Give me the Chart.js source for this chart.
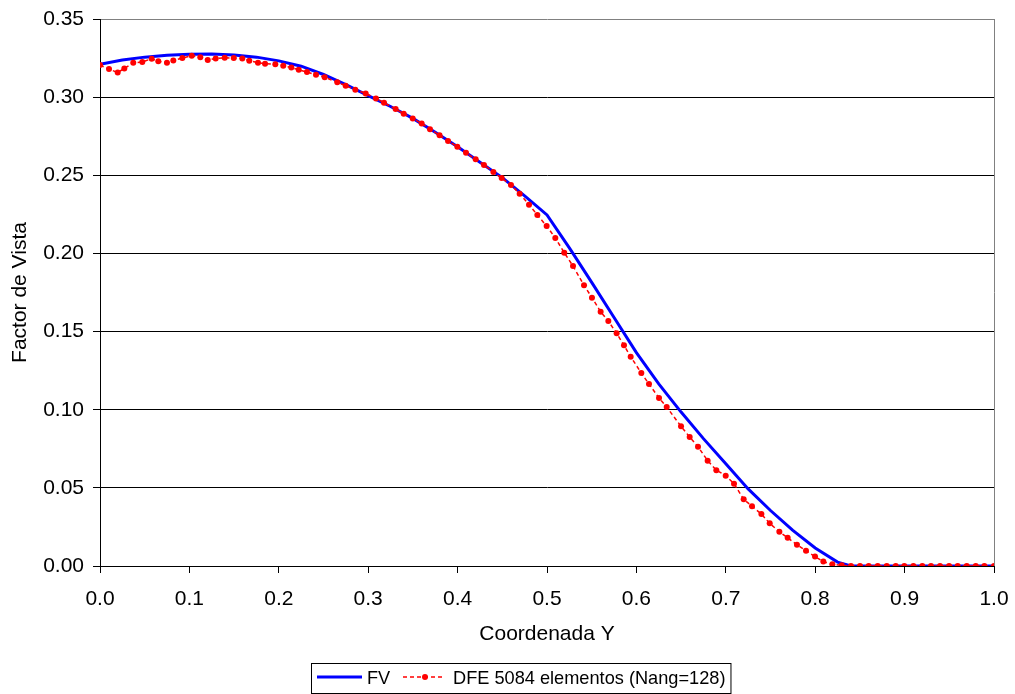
<!DOCTYPE html>
<html>
<head>
<meta charset="utf-8">
<script src="https://cdn.jsdelivr.net/npm/chart.js@4.4.1/dist/chart.umd.min.js"></script>
<style>
  html, body { margin: 0; padding: 0; background: #fff; }
  #wrap { width: 1015px; height: 694px; position: relative; }
</style>
</head>
<body>
<div id="wrap"><canvas id="fvChart"></canvas></div>
<script>
// Coordenada Y / Factor de Vista - analytic curve (FV)
const fvX = [0, 0.025, 0.05, 0.075, 0.1, 0.125, 0.15, 0.175, 0.2, 0.225, 0.25, 0.275, 0.3, 0.325, 0.35, 0.375, 0.4, 0.425, 0.45, 0.475, 0.5,
  0.525, 0.55, 0.575, 0.6, 0.625, 0.65, 0.675, 0.7, 0.725, 0.75, 0.775, 0.8, 0.825, 0.84, 0.9, 1.0];
const fvY = [0.3210, 0.3237, 0.3256, 0.3268, 0.3275, 0.3276, 0.3270, 0.3256, 0.3232, 0.3198, 0.3145, 0.3080, 0.3010, 0.2940, 0.2864, 0.2775, 0.2683, 0.2584, 0.2485, 0.2368, 0.2246,
  0.2035, 0.1815, 0.1590, 0.1365, 0.1165, 0.0985, 0.0815, 0.0655, 0.0493, 0.0355, 0.0228, 0.0115, 0.0025, 0, 0, 0];

// DFE 5084 elementos (Nang=128)
const dfeX = [0, 0.0101, 0.0198, 0.0272, 0.0372, 0.0473, 0.0578, 0.0652, 0.0749, 0.0820,
  0.0921, 0.1026, 0.1122, 0.1205, 0.1294, 0.1395, 0.1496, 0.1592, 0.1670, 0.1767,
  0.1846, 0.1961, 0.2050, 0.2140, 0.2223, 0.2315, 0.2416, 0.2513, 0.2654, 0.2748,
  0.2856, 0.2972, 0.3087, 0.3177, 0.3307, 0.3397, 0.3498, 0.3598, 0.3691, 0.3798,
  0.3893, 0.3997, 0.4094, 0.4202, 0.4295, 0.4400, 0.4493, 0.4597, 0.4694, 0.4799,
  0.4892, 0.4996, 0.5093, 0.5193, 0.5291, 0.5414, 0.5503, 0.5600, 0.5686, 0.5779,
  0.5861, 0.5936, 0.6055, 0.6141, 0.6253, 0.6339, 0.6499, 0.6596, 0.6689, 0.6797,
  0.6894, 0.6999, 0.7092, 0.7200, 0.7293, 0.7398, 0.7491, 0.7599, 0.7692, 0.7796,
  0.7897, 0.7998, 0.8091, 0.8192, 0.8296, 0.8400, 0.8501, 0.8598, 0.8699, 0.8800,
  0.8901, 0.8997, 0.9098, 0.9198, 0.9295, 0.9396, 0.9497, 0.9594, 0.9695, 0.9796,
  0.9892, 1.0];
const dfeY = [0.3205, 0.3180, 0.3157, 0.3184, 0.3220, 0.3225, 0.3246, 0.3229, 0.3220, 0.3235,
  0.3250, 0.3265, 0.3255, 0.3237, 0.3248, 0.3252, 0.3250, 0.3248, 0.3233, 0.3220,
  0.3214, 0.3210, 0.3201, 0.3190, 0.3175, 0.3161, 0.3143, 0.3127, 0.3095, 0.3073,
  0.3048, 0.3024, 0.2992, 0.2964, 0.2924, 0.2894, 0.2864, 0.2831, 0.2795, 0.2756,
  0.2719, 0.2683, 0.2644, 0.2602, 0.2566, 0.2521, 0.2482, 0.2438, 0.2382, 0.2312,
  0.2246, 0.2175, 0.2099, 0.2005, 0.1919, 0.1796, 0.1717, 0.1627, 0.1567, 0.1489,
  0.1412, 0.1339, 0.1235, 0.1164, 0.1075, 0.1017, 0.0894, 0.0825, 0.0763, 0.0674,
  0.0613, 0.0578, 0.0527, 0.0427, 0.0382, 0.0333, 0.0273, 0.0219, 0.0181, 0.0136,
  0.0098, 0.0060, 0.0028, 0.0011, 0.0004, 0, 0, 0, 0, 0,
  0, 0, 0, 0, 0, 0, 0, 0, 0, 0,
  0, 0];

const seriesNames = ['FV', 'DFE 5084 elementos (Nang=128)'];
const xTitle = 'Coordenada Y';
const yTitle = 'Factor de Vista';

const FONT = '"Liberation Sans", Arial, Helvetica, sans-serif';
Chart.defaults.font.family = FONT;
Chart.defaults.color = '#000';

const toPoints = (xs, ys) => xs.map((x, i) => ({ x: x, y: ys[i] }));

// grey frame on the right side of the plot area
const plotFrame = {
  id: 'plotFrame',
  beforeDatasetsDraw(chart) {
    const { ctx, chartArea } = chart;
    ctx.save();
    ctx.strokeStyle = '#808080';
    ctx.lineWidth = 1;
    ctx.beginPath();
    ctx.moveTo(Math.round(chartArea.right) + 0.5, chartArea.top);
    ctx.lineTo(Math.round(chartArea.right) + 0.5, chartArea.bottom);
    ctx.stroke();
    ctx.restore();
  }
};

// boxed legend under the x axis title
const legendBox = {
  id: 'legendBox',
  afterDraw(chart) {
    const ctx = chart.ctx;
    const top = 663, h = 30, left = 311;
    const cy = top + 15;
    ctx.save();
    ctx.font = '18.2px ' + FONT;
    ctx.textBaseline = 'middle';
    ctx.fillStyle = '#000';

    // FV sample
    ctx.strokeStyle = '#0000ff';
    ctx.lineWidth = 3;
    ctx.beginPath();
    ctx.moveTo(left + 6, cy - 1);
    ctx.lineTo(left + 51, cy - 1);
    ctx.stroke();
    ctx.fillText(seriesNames[0], left + 56, cy + 1);

    // DFE sample
    const sx = left + 92;
    ctx.strokeStyle = '#ff0000';
    ctx.lineWidth = 1.5;
    ctx.setLineDash([4, 3]);
    ctx.beginPath();
    ctx.moveTo(sx, cy - 1);
    ctx.lineTo(sx + 39, cy - 1);
    ctx.stroke();
    ctx.setLineDash([]);
    ctx.fillStyle = '#ff0000';
    ctx.beginPath();
    ctx.arc(sx + 22, cy - 1, 3, 0, Math.PI * 2);
    ctx.fill();
    ctx.fillStyle = '#000';
    const tx = sx + 50;
    ctx.fillText(seriesNames[1], tx, cy + 1);
    const w = tx + ctx.measureText(seriesNames[1]).width + 5 - left;

    ctx.strokeStyle = '#000';
    ctx.lineWidth = 1;
    ctx.strokeRect(left + 0.5, top + 0.5, w, h);
    ctx.restore();
  }
};

const ctx = document.getElementById('fvChart').getContext('2d');
const fvChart = new Chart(ctx, {
  type: 'scatter',
  data: {
    datasets: [
      {
        label: seriesNames[0],
        data: toPoints(fvX, fvY),
        showLine: true,
        borderColor: '#0000ff',
        borderWidth: 3,
        pointRadius: 0,
        tension: 0,
        order: 2
      },
      {
        label: seriesNames[1],
        data: toPoints(dfeX, dfeY),
        showLine: true,
        borderColor: '#ff0000',
        borderWidth: 1.5,
        borderDash: [4, 3],
        pointRadius: 3,
        pointBorderWidth: 0,
        pointBackgroundColor: '#ff0000',
        tension: 0,
        order: 1
      }
    ]
  },
  options: {
    responsive: true,
    maintainAspectRatio: false,
    animation: false,
    layout: { padding: { left: 0, top: 19, right: 21, bottom: 0 } },
    plugins: {
      legend: { display: false },
      tooltip: { enabled: false }
    },
    scales: {
      x: {
        type: 'linear',
        min: 0,
        max: 1,
        afterFit: (scale) => {
          scale.height = 128;
          scale.paddingLeft = 0;
          scale.paddingRight = 0;
        },
        ticks: {
          stepSize: 0.1,
          padding: 14,
          font: { size: 21 },
          color: '#000',
          callback: (v) => v.toFixed(1)
        },
        grid: { drawOnChartArea: false, drawTicks: true, tickLength: 7, tickColor: '#000' },
        border: { display: true, color: '#000', width: 1 },
        title: {
          display: true,
          text: xTitle,
          font: { size: 21 },
          color: '#000',
          padding: { top: 0, bottom: 47 }
        }
      },
      y: {
        min: 0,
        max: 0.35,
        afterFit: (scale) => {
          scale.width = 100;
          scale.paddingTop = 0;
          scale.paddingBottom = 0;
        },
        ticks: {
          stepSize: 0.05,
          padding: 9,
          font: { size: 21 },
          color: '#000',
          callback: (v) => v.toFixed(2)
        },
        grid: {
          color: (c) => (c.tick && Math.abs(c.tick.value - 0.35) < 1e-9) ? '#808080' : '#000',
          lineWidth: 1,
          drawTicks: true,
          tickLength: 7,
          tickColor: '#000'
        },
        border: { display: true, color: '#000', width: 1 },
        title: {
          display: true,
          text: yTitle,
          font: { size: 21 },
          color: '#000',
          padding: { top: 8, bottom: 0 }
        }
      }
    }
  },
  plugins: [plotFrame, legendBox]
});
</script>
</body>
</html>
